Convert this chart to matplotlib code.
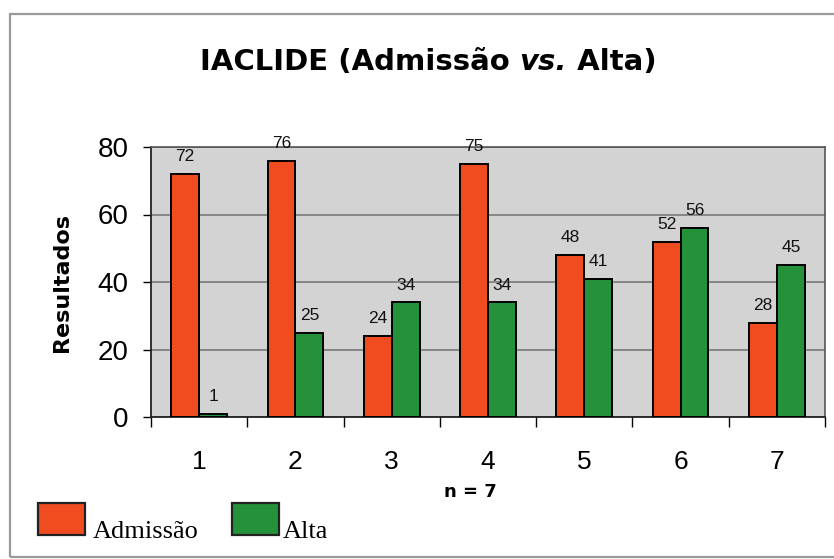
import numpy as np
import matplotlib
matplotlib.use("Agg")
import matplotlib.pyplot as plt
from matplotlib.patches import Rectangle

# data
categories = ["1", "2", "3", "4", "5", "6", "7"]
admissao = [72, 76, 24, 75, 48, 52, 28]
alta = [1, 25, 34, 34, 41, 56, 45]

ORANGE = "#f14b20"
GREEN = "#23923a"
PLOT_BG = "#d3d3d3"

W, H = 834, 559
fig = plt.figure(figsize=(W / 100, H / 100), dpi=100)
fig.patch.set_facecolor("white")

def fx(px):
    return px / W

def fy(py):
    return 1 - py / H

# outer frame around the chart
fig.patches.append(Rectangle((fx(10), fy(557)), fx(840) - fx(10), fy(14) - fy(557),
                             transform=fig.transFigure, fill=False,
                             edgecolor="#9a9a9a", linewidth=1.6))

ax = fig.add_axes([fx(151), fy(417), fx(825) - fx(151), fy(147) - fy(417)])
ax.set_facecolor(PLOT_BG)

x = np.arange(len(categories))
bw = 0.29
bars_a = ax.bar(x - bw / 2, admissao, bw, color=ORANGE, edgecolor="black",
                linewidth=1.4, zorder=3)
bars_b = ax.bar(x + bw / 2, alta, bw, color=GREEN, edgecolor="black",
                linewidth=1.4, zorder=3)

# value labels above each bar
for bars, vals in ((bars_a, admissao), (bars_b, alta)):
    for b, v in zip(bars, vals):
        ax.annotate(str(v), (b.get_x() + b.get_width() / 2, v),
                    xytext=(0, 7), textcoords="offset points",
                    ha="center", va="bottom", fontsize=12.5,
                    family="Liberation Sans", color="#111111",
                    annotation_clip=False, zorder=4)

ax.set_xlim(-0.5, len(categories) - 0.5)
ax.set_ylim(0, 80)
ax.set_yticks([0, 20, 40, 60, 80])
ax.yaxis.grid(True, color="#7a7a7a", linewidth=1.2, zorder=1)
ax.set_axisbelow(True)
ax.tick_params(axis="y", labelsize=20, length=6, width=1, pad=10, direction="out")
for lab in ax.get_yticklabels():
    lab.set_family("Liberation Sans")

# group boundaries carry the tick marks, category names sit between them
ax.set_xticks(np.arange(-0.5, len(categories) + 0.5, 1.0))
ax.set_xticklabels([])
ax.set_xticks(x, minor=True)
ax.set_xticklabels(categories, minor=True, fontsize=19, family="Liberation Sans")
ax.tick_params(axis="x", which="major", length=7, width=1, direction="out")
ax.tick_params(axis="x", which="minor", length=0, pad=24)

for side in ("left", "bottom"):
    ax.spines[side].set_color("#222222")
    ax.spines[side].set_linewidth(1.3)
for side in ("top", "right"):
    ax.spines[side].set_color("#555555")
    ax.spines[side].set_linewidth(1.2)

# axis title placed in figure pixels
fig.text(fx(62), fy(283), "Resultados", fontsize=16, fontweight="heavy",
         family="DejaVu Sans", rotation=90, ha="center", va="center")

# title in three pieces so "vs." can be italic
fig.canvas.draw()
renderer = fig.canvas.get_renderer()
parts = [("IACLIDE (Admissão ", "normal"), ("vs.", "italic"), (" Alta)", "normal")]
texts = []
for s, style in parts:
    t = fig.text(0, fy(62), s, fontsize=21, fontweight="heavy", style=style,
                 family="DejaVu Sans", va="center", ha="left")
    texts.append(t)
widths = [t.get_window_extent(renderer).width for t in texts]
start = 428 - sum(widths) / 2
for t, w in zip(texts, widths):
    t.set_x(fx(start))
    start += w

# legend boxes
for (x0, col, label, tx) in ((38, ORANGE, "Admissão", 93), (232, GREEN, "Alta", 283)):
    fig.patches.append(Rectangle((fx(x0), fy(535)), fx(47), fy(503) - fy(535),
                                 transform=fig.transFigure, facecolor=col,
                                 edgecolor="#222222", linewidth=1.6))
    fig.text(fx(tx), fy(538), label, fontsize=19, family="Liberation Serif",
             va="baseline", ha="left")

fig.text(fx(470), fy(492), "n = 7", fontsize=13, fontweight="heavy",
         family="DejaVu Sans", va="center", ha="center")

fig.savefig("out.png", dpi=100, facecolor="white")
